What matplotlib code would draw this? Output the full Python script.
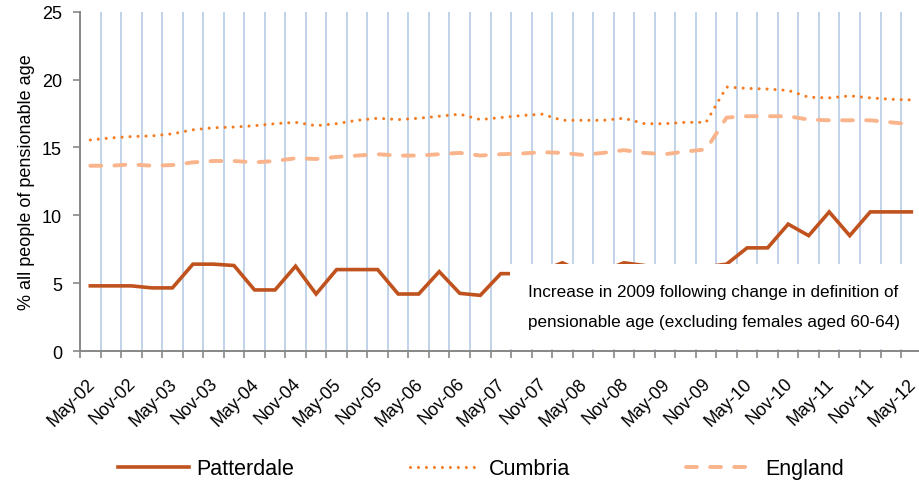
import numpy as np
import matplotlib
matplotlib.use("Agg")
import matplotlib.pyplot as plt
import matplotlib.transforms as mtransforms
from matplotlib.patches import Rectangle

plt.rcParams['font.family'] = ['Liberation Sans', 'DejaVu Sans']

# quarterly points, May-02 .. May-12
months = ['May', 'Aug', 'Nov', 'Feb']
dates = []
for i in range(41):
    m = months[i % 4]
    yr = 2 + (i + 3) // 4 if m == 'Feb' else 2 + i // 4
    dates.append(f"{m}-{yr:02d}")

patterdale = [4.8, 4.8, 4.8, 4.65, 4.65, 6.4, 6.4, 6.3, 4.5, 4.5,
              6.25, 4.2, 6.0, 6.0, 6.0, 4.2, 4.2, 5.85, 4.25, 4.1,
              5.7, 5.7, 5.9, 6.5, 5.8, 5.9, 6.5, 6.3, 5.9, 6.1,
              6.2, 6.4, 7.6, 7.6, 9.35, 8.5, 10.25, 8.5, 10.25, 10.25,
              10.25]
cumbria = [15.55, 15.7, 15.8, 15.85, 16.0, 16.3, 16.45, 16.5, 16.6, 16.75,
           16.85, 16.6, 16.75, 17.0, 17.15, 17.05, 17.15, 17.3, 17.45, 17.05,
           17.2, 17.35, 17.45, 17.0, 17.0, 17.0, 17.15, 16.75, 16.75, 16.85,
           16.85, 19.45, 19.35, 19.3, 19.2, 18.7, 18.65, 18.8, 18.65, 18.55,
           18.5]
england = [13.65, 13.65, 13.75, 13.65, 13.7, 13.9, 14.0, 14.0, 13.9, 14.0,
           14.2, 14.15, 14.3, 14.4, 14.5, 14.4, 14.4, 14.5, 14.6, 14.4,
           14.5, 14.55, 14.65, 14.6, 14.45, 14.6, 14.8, 14.6, 14.5, 14.7,
           14.85, 17.2, 17.3, 17.3, 17.3, 17.05, 17.0, 17.0, 17.0, 16.85,
           16.7]

note = ["Increase in 2009 following change in definition of",
        "pensionable age (excluding females aged 60-64)"]

x = np.arange(len(dates))
grey = '#878787'

fig = plt.figure(figsize=(9.19, 4.85), dpi=100)
ax = fig.add_axes([0.0871, 0.2742, 0.9157, 0.6996])

ax.vlines(x[:-1] + 0.5, 0, 25, color='#BCD0E8', lw=1.3, zorder=1)

ax.plot(x, patterdale, color='#C0521E', lw=2.6, label='Patterdale', zorder=2,
        solid_joinstyle='miter')
ax.plot(x, cumbria, color='#F47B20', lw=2.2, linestyle=(0, (0.01, 2.6)),
        dash_capstyle='round', label='Cumbria', zorder=2)
ax.plot(x, england, color='#F9B48C', lw=2.8, linestyle=(0, (2.8, 3.4)),
        dash_capstyle='round', label='England', zorder=2)

# white box for the note
ax.add_patch(Rectangle((0.511, 0.006), 0.6, 0.25, transform=ax.transAxes,
                       facecolor='white', edgecolor='none', zorder=3))
ax.text(0.532, 0.162, note[0], transform=ax.transAxes, fontsize=12.3,
        va='baseline', zorder=4)
ax.text(0.532, 0.074, note[1], transform=ax.transAxes, fontsize=12.3,
        va='baseline', zorder=4)

ax.set_xlim(-0.5, len(dates) - 0.5)
ax.set_ylim(0, 25)
ax.set_yticks(range(0, 26, 5))
ax.set_xticks(np.arange(-0.5, len(dates), 1.0))
ax.set_xticklabels([])
ax.set_xticks(x[::2], minor=True)
ax.set_xticklabels(dates[::2], minor=True, rotation=45, ha='right',
                   rotation_mode='anchor', fontsize=12.8)
ax.tick_params(axis='x', which='major', length=5, width=1.2, color=grey)
ax.tick_params(axis='x', which='minor', length=0, pad=17)
ax.tick_params(axis='y', length=5, width=1.2, color=grey, labelsize=13, pad=8)

# nudge date labels a little to the left so May-12 stays inside the figure
shift = mtransforms.ScaledTranslation(-4 / 100, 0, fig.dpi_scale_trans)
for lbl in ax.get_xticklabels(minor=True):
    lbl.set_transform(lbl.get_transform() + shift)

for s in ['top', 'right']:
    ax.spines[s].set_visible(False)
for s in ['left', 'bottom']:
    ax.spines[s].set_color(grey)
    ax.spines[s].set_linewidth(1.4)

ax.set_ylabel('% all people of pensionable age', fontsize=13)
ax.yaxis.set_label_coords(-0.0535, 0.5)

fig.legend(loc='center', bbox_to_anchor=(0.523, 0.031), ncol=3, frameon=False,
           fontsize=15.5, handlelength=3.3, handletextpad=0.35, columnspacing=5.4)

fig.savefig('out.png', dpi=100)
